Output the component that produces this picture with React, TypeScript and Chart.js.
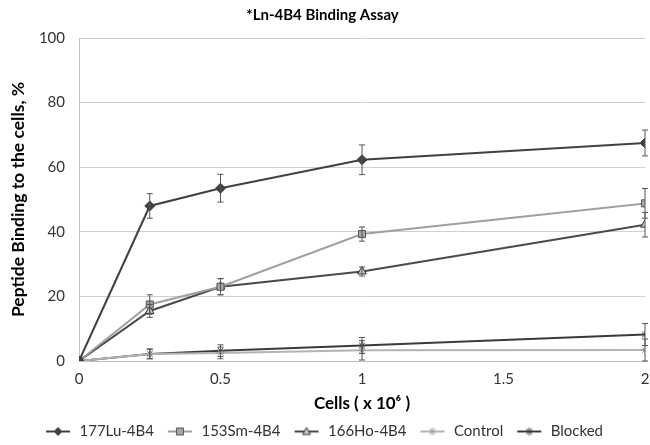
import React, { useEffect, useRef } from "react";
import { Chart, registerables } from "chart.js";

Chart.register(...registerables);

const cells = [0, 0.25, 0.5, 1, 2];
const lu177 = [0, 48, 53.5, 62.3, 67.5];
const lu177Err = [0, 3.8, 4.3, 4.6, 4.0];
const sm153 = [0, 17.5, 23, 39.3, 48.8];
const sm153Err = [0, 3.0, 2.5, 2.2, 4.6];
const ho166 = [0, 15.5, 23, 27.7, 42.2];
const ho166Err = [0, 2.0, 2.5, 1.4, 3.8];
const control = [0, 2.2, 2.5, 3.3, 3.4];
const controlErr = [0, 1.5, 1.8, 3.0, 3.4];
const blocked = [0, 2.2, 3.2, 4.8, 8.2];
const blockedErr = [0, 1.5, 1.8, 2.5, 3.4];

const seriesLabels = ["177Lu-4B4", "153Sm-4B4", "166Ho-4B4", "Control", "Blocked"];
const yTicks = [0, 20, 40, 60, 80, 100];
const xTickLabels = ["0", "0.5", "1", "1.5", "2"];

const FONT = "Lato, 'Open Sans', sans-serif";

type Style = {
  line: string;
  fill: string;
  border: string;
  marker: string;
  radius: number;
};

const styles: Style[] = [
  { line: "#404040", fill: "#404040", border: "#404040", marker: "rectRot", radius: 5 },
  { line: "#a0a0a0", fill: "#a6a6a6", border: "#555555", marker: "rect", radius: 5 },
  { line: "#4a4a4a", fill: "#c8c8c8", border: "#333333", marker: "triangle", radius: 5 },
  { line: "#b3b3b3", fill: "#b3b3b3", border: "#9a9a9a", marker: "star", radius: 4 },
  { line: "#3a3a3a", fill: "#3a3a3a", border: "#3a3a3a", marker: "star", radius: 4 },
];

function legendIcon(s: Style): HTMLCanvasElement {
  const c = document.createElement("canvas");
  c.width = 30;
  c.height = 14;
  const ctx = c.getContext("2d")!;
  ctx.strokeStyle = s.line;
  ctx.lineWidth = 2;
  ctx.beginPath();
  ctx.moveTo(4, 7);
  ctx.lineTo(28, 7);
  ctx.stroke();
  ctx.fillStyle = s.fill;
  ctx.strokeStyle = s.border;
  ctx.lineWidth = 1;
  const cx = 16, cy = 7, r = 4;
  ctx.beginPath();
  if (s.marker === "rectRot") {
    ctx.moveTo(cx, cy - r);
    ctx.lineTo(cx + r, cy);
    ctx.lineTo(cx, cy + r);
    ctx.lineTo(cx - r, cy);
    ctx.closePath();
    ctx.fill();
    ctx.stroke();
  } else if (s.marker === "rect") {
    ctx.rect(cx - 3.5, cy - 3.5, 7, 7);
    ctx.fill();
    ctx.stroke();
  } else if (s.marker === "triangle") {
    ctx.moveTo(cx, cy - 4);
    ctx.lineTo(cx + 4, cy + 3);
    ctx.lineTo(cx - 4, cy + 3);
    ctx.closePath();
    ctx.fill();
    ctx.stroke();
  } else {
    ctx.lineWidth = 1;
    ctx.moveTo(cx - 3, cy - 3);
    ctx.lineTo(cx + 3, cy + 3);
    ctx.moveTo(cx + 3, cy - 3);
    ctx.lineTo(cx - 3, cy + 3);
    ctx.moveTo(cx, cy - 4);
    ctx.lineTo(cx, cy + 4);
    ctx.stroke();
  }
  return c;
}

const errorBarPlugin = {
  id: "errorBars",
  afterDatasetsDraw(chart: any) {
    const ctx = chart.ctx;
    const yScale = chart.scales.y;
    chart.data.datasets.forEach((ds: any, di: number) => {
      const errs: number[] | undefined = ds.errors;
      if (!errs) return;
      const meta = chart.getDatasetMeta(di);
      ctx.save();
      ctx.strokeStyle = ds.errorColor || "#555";
      ctx.lineWidth = 1;
      meta.data.forEach((pt: any, i: number) => {
        const e = errs[i];
        if (!e) return;
        const v = ds.data[i].y;
        const top = yScale.getPixelForValue(v + e);
        const bot = yScale.getPixelForValue(v - e);
        const x = pt.x;
        ctx.beginPath();
        ctx.moveTo(x, top);
        ctx.lineTo(x, bot);
        ctx.moveTo(x - 3, top);
        ctx.lineTo(x + 3, top);
        ctx.moveTo(x - 3, bot);
        ctx.lineTo(x + 3, bot);
        ctx.stroke();
      });
      ctx.restore();
    });
  },
};

export default function App() {
  const ref = useRef<HTMLCanvasElement>(null);

  useEffect(() => {
    if (!ref.current) return;
    const values = [lu177, sm153, ho166, control, blocked];
    const errors = [lu177Err, sm153Err, ho166Err, controlErr, blockedErr];
    const icons = styles.map(legendIcon);

    const datasets = values.map((vals, k) => ({
      label: seriesLabels[k],
      data: cells.map((x, i) => ({ x, y: vals[i] })),
      borderColor: styles[k].line,
      backgroundColor: styles[k].fill,
      pointBackgroundColor: styles[k].fill,
      pointBorderColor: styles[k].border,
      pointBorderWidth: 1,
      pointStyle: styles[k].marker,
      pointRadius: styles[k].radius,
      borderWidth: 2,
      showLine: true,
      tension: 0,
      errors: errors[k],
      errorColor: "#555555",
    }));

    const chart = new Chart(ref.current, {
      type: "scatter",
      data: { datasets: datasets as any },
      plugins: [errorBarPlugin],
      options: {
        animation: false,
        responsive: false,
        layout: { autoPadding: false, padding: { left: 0, right: 5, top: 0, bottom: -4 } },
        plugins: {
          tooltip: { enabled: false },
          title: {
            display: true,
            text: "*Ln-4B4 Binding Assay",
            color: "#000",
            font: { family: FONT, size: 15, weight: "bold" },
            padding: { top: 6, bottom: 14 },
          },
          legend: {
            position: "bottom",
            labels: {
              usePointStyle: true,
              pointStyleWidth: 30,
              color: "#333",
              padding: 10,
              font: { family: FONT, size: 15 },
              generateLabels: (c: any) => {
                const items = Chart.defaults.plugins.legend.labels.generateLabels(c);
                return items.map((it: any, i: number) => ({ ...it, pointStyle: icons[i] }));
              },
            },
          },
        },
        scales: {
          x: {
            type: "linear",
            min: 0,
            max: 2,
            afterFit: (s: any) => {
              s.height = 53;
              s.paddingLeft = 0;
              s.paddingRight = 0;
            },
            afterBuildTicks: (s: any) => {
              s.ticks = xTickLabels.map((t) => ({ value: parseFloat(t) }));
            },
            ticks: {
              padding: 9,
              color: "#333",
              font: { family: FONT, size: 15 },
              callback: (v: any) => String(v),
            },
            grid: { display: false, drawTicks: false },
            border: { display: true, color: "#bfbfbf", width: 1 },
            title: {
              display: true,
              text: "Cells ( x 10\u2076 )",
              color: "#000",
              font: { family: FONT, size: 17, weight: "bold" },
              padding: { top: 0, bottom: 0 },
            },
          },
          y: {
            min: 0,
            max: 100,
            afterFit: (s: any) => {
              s.width = 79;
              s.paddingTop = 0;
              s.paddingBottom = 0;
            },
            afterBuildTicks: (s: any) => {
              s.ticks = yTicks.map((v) => ({ value: v }));
            },
            ticks: {
              padding: 14,
              color: "#333",
              font: { family: FONT, size: 15 },
            },
            grid: { color: "#d0d0d0", lineWidth: 1, drawTicks: false },
            border: { display: true, color: "#bfbfbf", width: 1 },
            title: {
              display: true,
              text: "Peptide Binding to the cells, %",
              color: "#000",
              font: { family: FONT, size: 17.5, weight: "bold" },
              padding: { top: 8, bottom: 0 },
            },
          },
        },
      } as any,
    });
    return () => chart.destroy();
  }, []);

  return (
    <div style={{ position: "absolute", left: 0, top: 0, width: 650, height: 445, background: "#fff" }}>
      <canvas ref={ref} width={650} height={445} />
    </div>
  );
}
